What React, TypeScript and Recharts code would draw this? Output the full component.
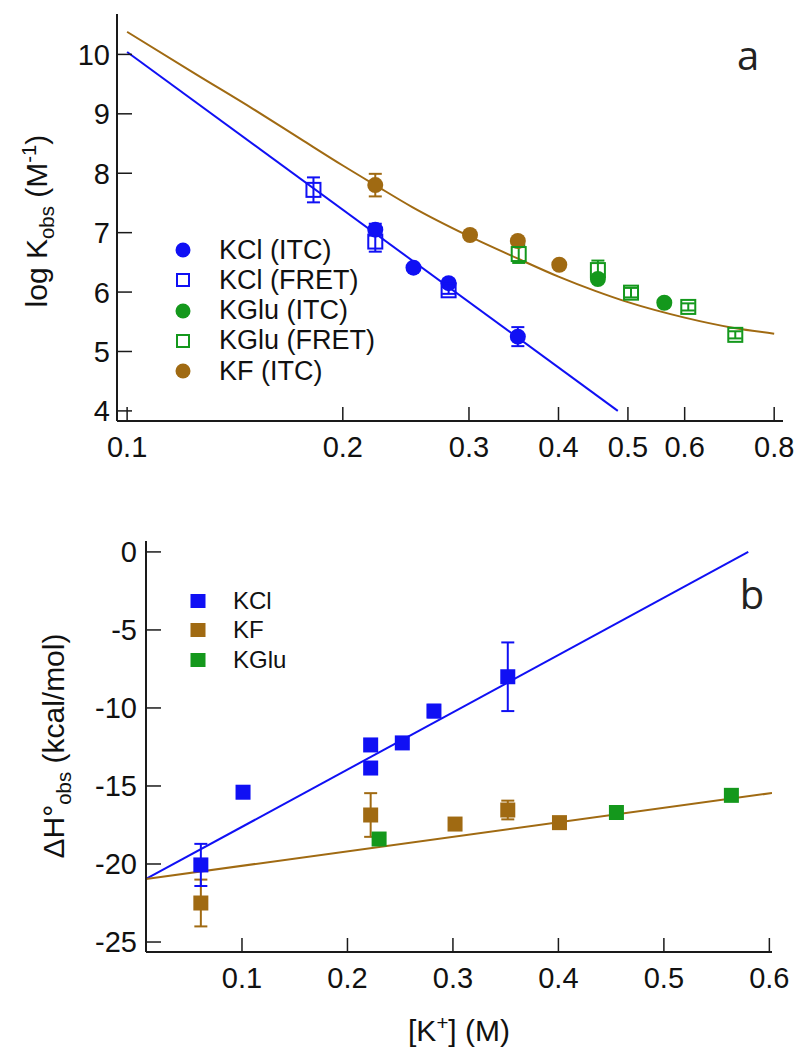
import {
  ComposedChart,
  ErrorBar,
  Legend,
  Line,
  Scatter,
  XAxis,
  YAxis,
} from "recharts";

const BLUE = "#1010f4";
const GREEN = "#14981c";
const BROWN = "#a06a12";
const AXIS = "#1a1a1a";
const FONT = '"Liberation Sans", Arial, sans-serif';

// ---- panel a: log Kobs vs [K+] (log x) : [x, y, err]
const kclItcA = [
  [0.222, 7.05, 0.1],
  [0.251, 6.41, 0],
  [0.281, 6.15, 0.06],
  [0.351, 5.25, 0.16],
];
const kclFretA = [
  [0.182, 7.72, 0.21],
  [0.222, 6.85, 0.17],
  [0.281, 6.03, 0.06],
];
const kgluItcA = [
  [0.454, 6.22, 0],
  [0.562, 5.82, 0.06],
];
const kgluFretA = [
  [0.352, 6.64, 0.15],
  [0.454, 6.37, 0.16],
  [0.505, 5.99, 0.08],
  [0.607, 5.75, 0.06],
  [0.706, 5.28, 0.06],
];
const kfItcA = [
  [0.222, 7.8, 0.19],
  [0.301, 6.96, 0],
  [0.351, 6.86, 0],
  [0.401, 6.46, 0],
];
const kclFitA = [
  [0.1, 10.04],
  [0.484, 4.0],
];
const kfFitA = [
  [0.1, 10.38],
  [0.125, 9.66],
  [0.15, 9.08],
  [0.175, 8.57],
  [0.2, 8.13],
  [0.222, 7.8],
  [0.25, 7.43],
  [0.3, 6.94],
  [0.35, 6.57],
  [0.4, 6.26],
  [0.45, 6.02],
  [0.5, 5.83],
  [0.6, 5.57],
  [0.7, 5.4],
  [0.8, 5.3],
];
const xTicksA = [0.1, 0.2, 0.3, 0.4, 0.5, 0.6, 0.8];
const yTicksA = [4, 5, 6, 7, 8, 9, 10];

// ---- panel b: dH vs [K+] : [x, y, err]
const kclB = [
  [0.061, -20.06, 1.35],
  [0.101, -15.4, 0.35],
  [0.222, -12.37, 0],
  [0.222, -13.85, 0],
  [0.252, -12.24, 0],
  [0.282, -10.2, 0.4],
  [0.352, -8.0, 2.2],
];
const kfB = [
  [0.061, -22.5, 1.5],
  [0.222, -16.86, 1.4],
  [0.302, -17.44, 0],
  [0.352, -16.54, 0.6],
  [0.401, -17.35, 0.3],
];
const kgluB = [
  [0.23, -18.4, 0],
  [0.455, -16.7, 0],
  [0.564, -15.6, 0],
];
const kclFitB = [
  [0.009, -20.96],
  [0.58, 0],
];
const kfFitB = [
  [0.009, -20.96],
  [0.6025, -15.45],
];
const xTicksB = [0.1, 0.2, 0.3, 0.4, 0.5, 0.6];
const yTicksB = [-25, -20, -15, -10, -5, 0];

const legendA = [
  { name: "KCl (ITC)", color: BLUE, open: false, round: true },
  { name: "KCl (FRET)", color: BLUE, open: true, round: false },
  { name: "KGlu (ITC)", color: GREEN, open: false, round: true },
  { name: "KGlu (FRET)", color: GREEN, open: true, round: false },
  { name: "KF (ITC)", color: BROWN, open: false, round: true },
];
const legendB = [
  { name: "KCl", color: BLUE, open: false, round: false },
  { name: "KF", color: BROWN, open: false, round: false },
  { name: "KGlu", color: GREEN, open: false, round: false },
];

const rows = (pts: number[][]) =>
  pts.map(([x, y, err]) => ({ x, y, err: err ?? 0 }));

function InTick(props: any) {
  const { x, y, payload, orient, len, gap, size } = props;
  if (orient === "left") {
    const x0 = x + gap;
    return (
      <g>
        <line x1={x0} x2={x0 + len} y1={y} y2={y} stroke={AXIS} strokeWidth={1.5} />
        <text x={x} y={y} dy="0.36em" textAnchor="end" fontSize={size} fontFamily={FONT} fill="#111">
          {payload.value}
        </text>
      </g>
    );
  }
  const y0 = y - gap;
  return (
    <g>
      <line x1={x} x2={x} y1={y0} y2={y0 - len} stroke={AXIS} strokeWidth={1.5} />
      <text x={x} y={y} dy="0.36em" textAnchor="middle" fontSize={size} fontFamily={FONT} fill="#111">
        {payload.value}
      </text>
    </g>
  );
}

const dot = (color: string, r: number) => (p: any) =>
  <circle cx={p.cx} cy={p.cy} r={r} fill={color} />;

const box = (color: string, s: number, open: boolean) => (p: any) =>
  (
    <rect
      x={p.cx - s / 2}
      y={p.cy - s / 2}
      width={s}
      height={s}
      fill={open ? "none" : color}
      stroke={open ? color : "none"}
      strokeWidth={open ? 2 : 0}
    />
  );

function LegendList({
  items,
  rowH,
  gap,
  size,
}: {
  items: typeof legendA;
  rowH: number;
  gap: number;
  size: number;
}) {
  return (
    <div style={{ fontFamily: FONT, fontSize: size, color: "#111" }}>
      {items.map((it) => (
        <div key={it.name} style={{ display: "flex", alignItems: "center", height: rowH }}>
          <svg width={16} height={16} style={{ flex: "none" }}>
            {it.round ? (
              <circle cx={8} cy={8} r={7.5} fill={it.color} />
            ) : it.open ? (
              <rect x={2} y={2} width={12} height={12} fill="none" stroke={it.color} strokeWidth={2} />
            ) : (
              <rect x={0.5} y={1} width={15} height={14} fill={it.color} />
            )}
          </svg>
          <span style={{ marginLeft: gap, whiteSpace: "nowrap" }}>{it.name}</span>
        </div>
      ))}
    </div>
  );
}

function Frame() {
  return [
    <XAxis
      key="ft"
      xAxisId="top"
      orientation="top"
      type="number"
      domain={[0, 1]}
      height={0}
      tick={false}
      tickLine={false}
      axisLine={{ stroke: AXIS, strokeWidth: 2 }}
    />,
    <YAxis
      key="fr"
      yAxisId="right"
      orientation="right"
      type="number"
      domain={[0, 1]}
      width={0}
      tick={false}
      tickLine={false}
      axisLine={{ stroke: AXIS, strokeWidth: 2 }}
    />,
  ];
}

const abs = (left: number, top: number, extra: any = {}) => ({
  position: "absolute" as const,
  left,
  top,
  ...extra,
});

const CAP = 6.5;

function PanelA() {
  return (
    <div style={abs(0, 0, { width: 800, height: 500 })}>
      <ComposedChart
        width={800}
        height={500}
        margin={{ top: 14, right: 17, bottom: 29, left: 17 }}
      >
        <XAxis
          dataKey="x"
          type="number"
          scale="log"
          domain={[0.0968, 0.823]}
          allowDataOverflow
          ticks={xTicksA}
          interval={0}
          height={50}
          tickSize={0}
          tickMargin={26}
          tickLine={false}
          axisLine={{ stroke: AXIS, strokeWidth: 2 }}
          tick={(p: any) => <InTick {...p} orient="bottom" len={14} gap={26} size={29} />}
        />
        <YAxis
          dataKey="y"
          type="number"
          domain={[3.83, 10.68]}
          allowDataOverflow
          ticks={yTicksA}
          interval={0}
          width={100}
          tickSize={0}
          tickMargin={7}
          tickLine={false}
          axisLine={{ stroke: AXIS, strokeWidth: 2 }}
          tick={(p: any) => <InTick {...p} orient="left" len={15} gap={7} size={29} />}
        />
        {Frame()}
        <Line data={rows(kclFitA)} dataKey="y" type="linear" stroke={BLUE} strokeWidth={2} dot={false} isAnimationActive={false} />
        <Line data={rows(kfFitA)} dataKey="y" type="monotone" stroke={BROWN} strokeWidth={2} dot={false} isAnimationActive={false} />
        <Scatter data={rows(kfItcA)} shape={dot(BROWN, 8)} isAnimationActive={false}>
          <ErrorBar dataKey="err" direction="y" width={CAP} stroke={BROWN} strokeWidth={2} />
        </Scatter>
        <Scatter data={rows(kgluItcA)} shape={dot(GREEN, 8)} isAnimationActive={false}>
          <ErrorBar dataKey="err" direction="y" width={CAP} stroke={GREEN} strokeWidth={2} />
        </Scatter>
        <Scatter data={rows(kgluFretA)} shape={box(GREEN, 14, true)} isAnimationActive={false}>
          <ErrorBar dataKey="err" direction="y" width={CAP} stroke={GREEN} strokeWidth={2} />
        </Scatter>
        <Scatter data={rows(kclItcA)} shape={dot(BLUE, 8)} isAnimationActive={false}>
          <ErrorBar dataKey="err" direction="y" width={CAP} stroke={BLUE} strokeWidth={2} />
        </Scatter>
        <Scatter data={rows(kclFretA)} shape={box(BLUE, 14, true)} isAnimationActive={false}>
          <ErrorBar dataKey="err" direction="y" width={CAP} stroke={BLUE} strokeWidth={2} />
        </Scatter>
        <Legend
          layout="horizontal"
          align="center"
          verticalAlign="middle"
          wrapperStyle={{ left: 175, top: 235, width: 280, height: 152 }}
          content={() => <LegendList items={legendA} rowH={30.25} gap={28} size={27} />}
        />
      </ComposedChart>
      <div
        style={abs(38, 221, {
          transform: "translate(-50%, -50%) rotate(-90deg)",
          fontFamily: FONT,
          fontSize: 30,
          whiteSpace: "nowrap",
          color: "#111",
        })}
      >
        log K<sub style={{ fontSize: "0.68em" }}>obs</sub> (M
        <sup style={{ fontSize: "0.68em" }}>-1</sup>)
      </div>
      <div
        style={abs(748, 55, {
          transform: "translate(-50%, -50%)",
          fontFamily: '"Open Sans", sans-serif',
          fontSize: 40,
          lineHeight: 1,
          color: "#222",
        })}
      >
        a
      </div>
    </div>
  );
}

function PanelB() {
  return (
    <div style={abs(0, 500, { width: 800, height: 553 })}>
      <ComposedChart
        width={800}
        height={553}
        margin={{ top: 41, right: 28, bottom: 51, left: 46 }}
      >
        <XAxis
          dataKey="x"
          type="number"
          domain={[0.009, 0.6025]}
          allowDataOverflow
          ticks={xTicksB}
          interval={0}
          height={50}
          tickSize={0}
          tickMargin={26}
          tickLine={false}
          axisLine={{ stroke: AXIS, strokeWidth: 2 }}
          tick={(p: any) => <InTick {...p} orient="bottom" len={14} gap={26} size={29} />}
        />
        <YAxis
          dataKey="y"
          type="number"
          domain={[-25.64, 0.7]}
          allowDataOverflow
          ticks={yTicksB}
          interval={0}
          width={100}
          tickSize={0}
          tickMargin={9}
          tickLine={false}
          axisLine={{ stroke: AXIS, strokeWidth: 2 }}
          tick={(p: any) => <InTick {...p} orient="left" len={15} gap={9} size={29} />}
        />
        {Frame()}
        <Line data={rows(kclFitB)} dataKey="y" type="linear" stroke={BLUE} strokeWidth={2} dot={false} isAnimationActive={false} />
        <Line data={rows(kfFitB)} dataKey="y" type="linear" stroke={BROWN} strokeWidth={2} dot={false} isAnimationActive={false} />
        <Scatter data={rows(kfB)} shape={box(BROWN, 15, false)} isAnimationActive={false}>
          <ErrorBar dataKey="err" direction="y" width={CAP} stroke={BROWN} strokeWidth={2} />
        </Scatter>
        <Scatter data={rows(kgluB)} shape={box(GREEN, 15, false)} isAnimationActive={false}>
          <ErrorBar dataKey="err" direction="y" width={CAP} stroke={GREEN} strokeWidth={2} />
        </Scatter>
        <Scatter data={rows(kclB)} shape={box(BLUE, 15, false)} isAnimationActive={false}>
          <ErrorBar dataKey="err" direction="y" width={CAP} stroke={BLUE} strokeWidth={2} />
        </Scatter>
        <Legend
          layout="horizontal"
          align="center"
          verticalAlign="middle"
          wrapperStyle={{ left: 190, top: 86, width: 200, height: 90 }}
          content={() => <LegendList items={legendB} rowH={29.5} gap={27} size={24} />}
        />
      </ComposedChart>
      <div
        style={abs(56, 246, {
          transform: "translate(-50%, -50%) rotate(-90deg)",
          fontFamily: FONT,
          fontSize: 30,
          whiteSpace: "nowrap",
          color: "#111",
        })}
      >
        ΔH°<sub style={{ fontSize: "0.68em" }}>obs</sub> (kcal/mol)
      </div>
      <div
        style={abs(459, 530, {
          transform: "translate(-50%, -50%)",
          fontFamily: FONT,
          fontSize: 30,
          whiteSpace: "nowrap",
          color: "#111",
        })}
      >
        [K<sup style={{ fontSize: "0.68em" }}>+</sup>] (M)
      </div>
      <div
        style={abs(752, 94, {
          transform: "translate(-50%, -50%)",
          fontFamily: '"Open Sans", sans-serif',
          fontSize: 40,
          lineHeight: 1,
          color: "#222",
        })}
      >
        b
      </div>
    </div>
  );
}

export default function App() {
  return (
    <div style={abs(0, 0, { width: 800, height: 1053, background: "#fff" })}>
      <PanelA />
      <PanelB />
    </div>
  );
}
